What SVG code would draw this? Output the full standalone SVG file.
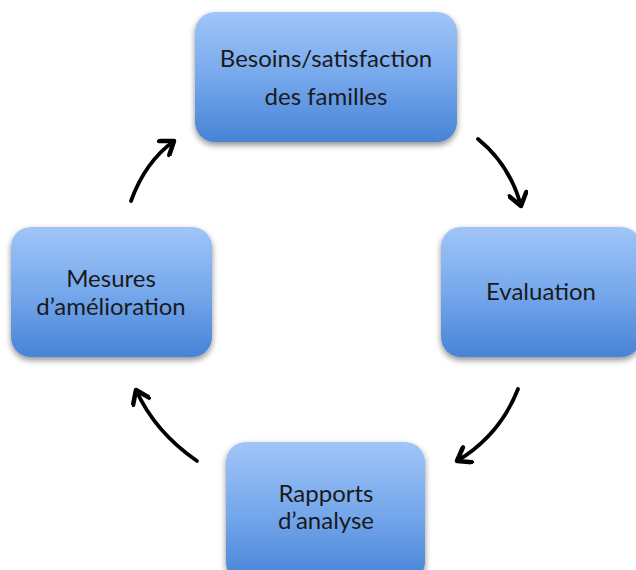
<svg xmlns="http://www.w3.org/2000/svg" width="636" height="570" viewBox="0 0 636 570">
<style>
.box{fill:url(#g);filter:url(#sh)}
.t{font-family:Lato,"Noto Sans",sans-serif;font-size:24px;fill:#1a1a1a;text-anchor:middle}
.c{fill:none;stroke:#000;stroke-width:3.8;stroke-linecap:round;marker-end:url(#ah)}
</style>
<defs>
<linearGradient id="g" x1="0" y1="0" x2="0" y2="1">
<stop offset="0" stop-color="#a0c5f8"/>
<stop offset="0.5" stop-color="#76a8ec"/>
<stop offset="1" stop-color="#4783d6"/>
</linearGradient>
<filter id="sh" x="-10%" y="-10%" width="120%" height="125%">
<feGaussianBlur in="SourceAlpha" stdDeviation="3"/>
<feOffset dy="3"/>
<feComponentTransfer><feFuncA type="linear" slope="0.45"/></feComponentTransfer>
<feMerge><feMergeNode/><feMergeNode in="SourceGraphic"/></feMerge>
</filter>
<marker id="ah" viewBox="0 0 12 12" refX="9" refY="6" markerWidth="5.5" markerHeight="5.5" orient="auto" markerUnits="strokeWidth">
<path d="M2,1 L9,6 L2,11" fill="none" stroke="#000" stroke-width="2.6" stroke-linecap="round" stroke-linejoin="round"/>
</marker>
</defs>
<g id="n1"><rect class="box" x="195" y="12" width="262" height="130" rx="20"/>
<text class="t" x="326" y="67">Besoins/satisfaction</text>
<text class="t" x="326" y="105">des familles</text></g>
<g id="n2"><rect class="box" x="441" y="227" width="200" height="130" rx="20"/>
<text class="t" x="541" y="300">Evaluation</text></g>
<g id="n3"><rect class="box" x="226" y="442" width="199" height="140" rx="20"/>
<text class="t" x="326" y="502">Rapports</text>
<text class="t" x="326" y="529">d’analyse</text></g>
<g id="n4"><rect class="box" x="11" y="227" width="201" height="130" rx="20"/>
<text class="t" x="111" y="287">Mesures</text>
<text class="t" x="111" y="315">d’amélioration</text></g>
<g id="connectors">
<path class="c" d="M478,139 Q510,165 521,206"/>
<path class="c" d="M518,389 Q500,435 457,461"/>
<path class="c" d="M197,461 Q155,432 136,390"/>
<path class="c" d="M131,201 Q145,162 174,141"/>
</g>
</svg>
